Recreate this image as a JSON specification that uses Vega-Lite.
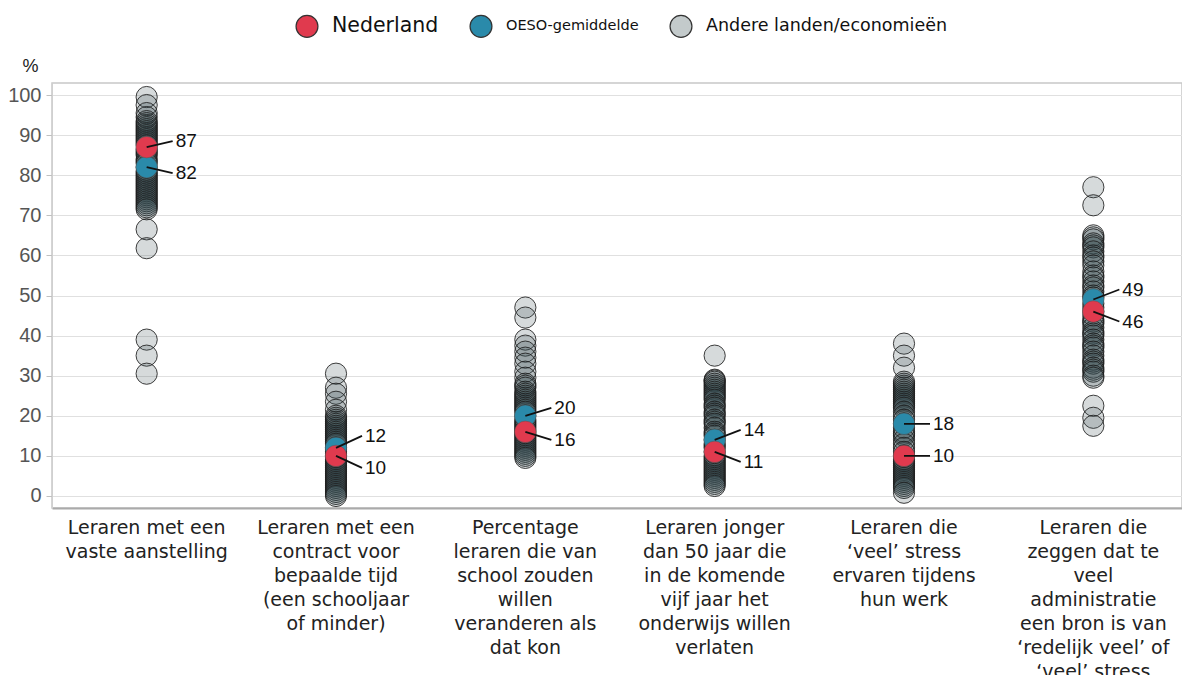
{
  "$schema": "https://vega.github.io/schema/vega-lite/v6.json",
  "autosize": "none",
  "width": 1130,
  "height": 425,
  "padding": {"left": 52, "top": 83, "right": 0, "bottom": 167},
  "background": "white",
  "config": {
    "view": {"stroke": "#c8c8c8", "strokeWidth": 1.5},
    "axisY": {
      "labelFont": "Liberation Sans", "labelFontSize": 20, "labelColor": "#555555",
      "domainColor": "#d0d0d0", "tickColor": "#c0c0c0", "tickSize": 6, "labelPadding": 5,
      "gridColor": "#e0e0e0", "gridWidth": 1.2
    },
    "axisX": {
      "labelFont": "DejaVu Sans", "labelFontSize": 19, "labelColor": "#222222",
      "labelLineHeight": 24, "labelPadding": 10, "labelBaseline": "top", "labelLimit": 0,
      "labelAngle": 0, "ticks": false, "grid": false, "domainColor": "#aaaaaa", "domainWidth": 2
    }
  },
  "datasets": {
    "highlight": [
      {"cat": "Leraren met een|vaste aanstelling", "group": "OESO-gemiddelde", "value": 82},
      {"cat": "Leraren met een|contract voor|bepaalde tijd|(een schooljaar|of minder)", "group": "OESO-gemiddelde", "value": 12},
      {"cat": "Percentage|leraren die van|school zouden|willen|veranderen als|dat kon", "group": "OESO-gemiddelde", "value": 20},
      {"cat": "Leraren jonger|dan 50 jaar die|in de komende|vijf jaar het|onderwijs willen|verlaten", "group": "OESO-gemiddelde", "value": 14},
      {"cat": "Leraren die|‘veel’ stress|ervaren tijdens|hun werk", "group": "OESO-gemiddelde", "value": 18},
      {"cat": "Leraren die|zeggen dat te|veel|administratie|een bron is van|‘redelijk veel’ of|‘veel’ stress", "group": "OESO-gemiddelde", "value": 49},
      {"cat": "Leraren met een|vaste aanstelling", "group": "Nederland", "value": 87},
      {"cat": "Leraren met een|contract voor|bepaalde tijd|(een schooljaar|of minder)", "group": "Nederland", "value": 10},
      {"cat": "Percentage|leraren die van|school zouden|willen|veranderen als|dat kon", "group": "Nederland", "value": 16},
      {"cat": "Leraren jonger|dan 50 jaar die|in de komende|vijf jaar het|onderwijs willen|verlaten", "group": "Nederland", "value": 11},
      {"cat": "Leraren die|‘veel’ stress|ervaren tijdens|hun werk", "group": "Nederland", "value": 10},
      {"cat": "Leraren die|zeggen dat te|veel|administratie|een bron is van|‘redelijk veel’ of|‘veel’ stress", "group": "Nederland", "value": 46}
    ],
    "seps": [
      {"cat": "Leraren met een|contract voor|bepaalde tijd|(een schooljaar|of minder)"},
      {"cat": "Percentage|leraren die van|school zouden|willen|veranderen als|dat kon"},
      {"cat": "Leraren jonger|dan 50 jaar die|in de komende|vijf jaar het|onderwijs willen|verlaten"},
      {"cat": "Leraren die|‘veel’ stress|ervaren tijdens|hun werk"},
      {"cat": "Leraren die|zeggen dat te|veel|administratie|een bron is van|‘redelijk veel’ of|‘veel’ stress"}
    ],
    "others": [
      {"cat": "Leraren met een|vaste aanstelling", "value": 99.5},
      {"cat": "Leraren met een|vaste aanstelling", "value": 97.5},
      {"cat": "Leraren met een|vaste aanstelling", "value": 95.5},
      {"cat": "Leraren met een|vaste aanstelling", "value": 94.5},
      {"cat": "Leraren met een|vaste aanstelling", "value": 93.5},
      {"cat": "Leraren met een|vaste aanstelling", "value": 93},
      {"cat": "Leraren met een|vaste aanstelling", "value": 92.5},
      {"cat": "Leraren met een|vaste aanstelling", "value": 92},
      {"cat": "Leraren met een|vaste aanstelling", "value": 91.5},
      {"cat": "Leraren met een|vaste aanstelling", "value": 91},
      {"cat": "Leraren met een|vaste aanstelling", "value": 90.5},
      {"cat": "Leraren met een|vaste aanstelling", "value": 90},
      {"cat": "Leraren met een|vaste aanstelling", "value": 89.5},
      {"cat": "Leraren met een|vaste aanstelling", "value": 89},
      {"cat": "Leraren met een|vaste aanstelling", "value": 88.5},
      {"cat": "Leraren met een|vaste aanstelling", "value": 88},
      {"cat": "Leraren met een|vaste aanstelling", "value": 87.5},
      {"cat": "Leraren met een|vaste aanstelling", "value": 86.5},
      {"cat": "Leraren met een|vaste aanstelling", "value": 86},
      {"cat": "Leraren met een|vaste aanstelling", "value": 85.5},
      {"cat": "Leraren met een|vaste aanstelling", "value": 85},
      {"cat": "Leraren met een|vaste aanstelling", "value": 84},
      {"cat": "Leraren met een|vaste aanstelling", "value": 83.5},
      {"cat": "Leraren met een|vaste aanstelling", "value": 83},
      {"cat": "Leraren met een|vaste aanstelling", "value": 82},
      {"cat": "Leraren met een|vaste aanstelling", "value": 81},
      {"cat": "Leraren met een|vaste aanstelling", "value": 80.5},
      {"cat": "Leraren met een|vaste aanstelling", "value": 80},
      {"cat": "Leraren met een|vaste aanstelling", "value": 79.5},
      {"cat": "Leraren met een|vaste aanstelling", "value": 79},
      {"cat": "Leraren met een|vaste aanstelling", "value": 78.5},
      {"cat": "Leraren met een|vaste aanstelling", "value": 78},
      {"cat": "Leraren met een|vaste aanstelling", "value": 77.5},
      {"cat": "Leraren met een|vaste aanstelling", "value": 77},
      {"cat": "Leraren met een|vaste aanstelling", "value": 76.5},
      {"cat": "Leraren met een|vaste aanstelling", "value": 76},
      {"cat": "Leraren met een|vaste aanstelling", "value": 75.5},
      {"cat": "Leraren met een|vaste aanstelling", "value": 75},
      {"cat": "Leraren met een|vaste aanstelling", "value": 74.5},
      {"cat": "Leraren met een|vaste aanstelling", "value": 74},
      {"cat": "Leraren met een|vaste aanstelling", "value": 73.5},
      {"cat": "Leraren met een|vaste aanstelling", "value": 73},
      {"cat": "Leraren met een|vaste aanstelling", "value": 72.5},
      {"cat": "Leraren met een|vaste aanstelling", "value": 72},
      {"cat": "Leraren met een|vaste aanstelling", "value": 71.5},
      {"cat": "Leraren met een|vaste aanstelling", "value": 66.5},
      {"cat": "Leraren met een|vaste aanstelling", "value": 61.8},
      {"cat": "Leraren met een|vaste aanstelling", "value": 39},
      {"cat": "Leraren met een|vaste aanstelling", "value": 35},
      {"cat": "Leraren met een|vaste aanstelling", "value": 30.5},

      {"cat": "Leraren met een|contract voor|bepaalde tijd|(een schooljaar|of minder)", "value": 30.5},
      {"cat": "Leraren met een|contract voor|bepaalde tijd|(een schooljaar|of minder)", "value": 27},
      {"cat": "Leraren met een|contract voor|bepaalde tijd|(een schooljaar|of minder)", "value": 25.5},
      {"cat": "Leraren met een|contract voor|bepaalde tijd|(een schooljaar|of minder)", "value": 23.5},
      {"cat": "Leraren met een|contract voor|bepaalde tijd|(een schooljaar|of minder)", "value": 21.5},
      {"cat": "Leraren met een|contract voor|bepaalde tijd|(een schooljaar|of minder)", "value": 20},
      {"cat": "Leraren met een|contract voor|bepaalde tijd|(een schooljaar|of minder)", "value": 19.5},
      {"cat": "Leraren met een|contract voor|bepaalde tijd|(een schooljaar|of minder)", "value": 19},
      {"cat": "Leraren met een|contract voor|bepaalde tijd|(een schooljaar|of minder)", "value": 18.5},
      {"cat": "Leraren met een|contract voor|bepaalde tijd|(een schooljaar|of minder)", "value": 18},
      {"cat": "Leraren met een|contract voor|bepaalde tijd|(een schooljaar|of minder)", "value": 17.5},
      {"cat": "Leraren met een|contract voor|bepaalde tijd|(een schooljaar|of minder)", "value": 17},
      {"cat": "Leraren met een|contract voor|bepaalde tijd|(een schooljaar|of minder)", "value": 16.5},
      {"cat": "Leraren met een|contract voor|bepaalde tijd|(een schooljaar|of minder)", "value": 16},
      {"cat": "Leraren met een|contract voor|bepaalde tijd|(een schooljaar|of minder)", "value": 15.5},
      {"cat": "Leraren met een|contract voor|bepaalde tijd|(een schooljaar|of minder)", "value": 15},
      {"cat": "Leraren met een|contract voor|bepaalde tijd|(een schooljaar|of minder)", "value": 14.5},
      {"cat": "Leraren met een|contract voor|bepaalde tijd|(een schooljaar|of minder)", "value": 14},
      {"cat": "Leraren met een|contract voor|bepaalde tijd|(een schooljaar|of minder)", "value": 13.5},
      {"cat": "Leraren met een|contract voor|bepaalde tijd|(een schooljaar|of minder)", "value": 13},
      {"cat": "Leraren met een|contract voor|bepaalde tijd|(een schooljaar|of minder)", "value": 12},
      {"cat": "Leraren met een|contract voor|bepaalde tijd|(een schooljaar|of minder)", "value": 11.5},
      {"cat": "Leraren met een|contract voor|bepaalde tijd|(een schooljaar|of minder)", "value": 11},
      {"cat": "Leraren met een|contract voor|bepaalde tijd|(een schooljaar|of minder)", "value": 10.5},
      {"cat": "Leraren met een|contract voor|bepaalde tijd|(een schooljaar|of minder)", "value": 10},
      {"cat": "Leraren met een|contract voor|bepaalde tijd|(een schooljaar|of minder)", "value": 9.5},
      {"cat": "Leraren met een|contract voor|bepaalde tijd|(een schooljaar|of minder)", "value": 9},
      {"cat": "Leraren met een|contract voor|bepaalde tijd|(een schooljaar|of minder)", "value": 8.5},
      {"cat": "Leraren met een|contract voor|bepaalde tijd|(een schooljaar|of minder)", "value": 8},
      {"cat": "Leraren met een|contract voor|bepaalde tijd|(een schooljaar|of minder)", "value": 7.5},
      {"cat": "Leraren met een|contract voor|bepaalde tijd|(een schooljaar|of minder)", "value": 7},
      {"cat": "Leraren met een|contract voor|bepaalde tijd|(een schooljaar|of minder)", "value": 6.5},
      {"cat": "Leraren met een|contract voor|bepaalde tijd|(een schooljaar|of minder)", "value": 6},
      {"cat": "Leraren met een|contract voor|bepaalde tijd|(een schooljaar|of minder)", "value": 5.5},
      {"cat": "Leraren met een|contract voor|bepaalde tijd|(een schooljaar|of minder)", "value": 5},
      {"cat": "Leraren met een|contract voor|bepaalde tijd|(een schooljaar|of minder)", "value": 4.5},
      {"cat": "Leraren met een|contract voor|bepaalde tijd|(een schooljaar|of minder)", "value": 4},
      {"cat": "Leraren met een|contract voor|bepaalde tijd|(een schooljaar|of minder)", "value": 3.5},
      {"cat": "Leraren met een|contract voor|bepaalde tijd|(een schooljaar|of minder)", "value": 3},
      {"cat": "Leraren met een|contract voor|bepaalde tijd|(een schooljaar|of minder)", "value": 2.5},
      {"cat": "Leraren met een|contract voor|bepaalde tijd|(een schooljaar|of minder)", "value": 2},
      {"cat": "Leraren met een|contract voor|bepaalde tijd|(een schooljaar|of minder)", "value": 1.5},
      {"cat": "Leraren met een|contract voor|bepaalde tijd|(een schooljaar|of minder)", "value": 1},
      {"cat": "Leraren met een|contract voor|bepaalde tijd|(een schooljaar|of minder)", "value": 0.5},
      {"cat": "Leraren met een|contract voor|bepaalde tijd|(een schooljaar|of minder)", "value": 0},

      {"cat": "Percentage|leraren die van|school zouden|willen|veranderen als|dat kon", "value": 47},
      {"cat": "Percentage|leraren die van|school zouden|willen|veranderen als|dat kon", "value": 44.5},
      {"cat": "Percentage|leraren die van|school zouden|willen|veranderen als|dat kon", "value": 39},
      {"cat": "Percentage|leraren die van|school zouden|willen|veranderen als|dat kon", "value": 37.5},
      {"cat": "Percentage|leraren die van|school zouden|willen|veranderen als|dat kon", "value": 36},
      {"cat": "Percentage|leraren die van|school zouden|willen|veranderen als|dat kon", "value": 34.5},
      {"cat": "Percentage|leraren die van|school zouden|willen|veranderen als|dat kon", "value": 33},
      {"cat": "Percentage|leraren die van|school zouden|willen|veranderen als|dat kon", "value": 31},
      {"cat": "Percentage|leraren die van|school zouden|willen|veranderen als|dat kon", "value": 29.5},
      {"cat": "Percentage|leraren die van|school zouden|willen|veranderen als|dat kon", "value": 28},
      {"cat": "Percentage|leraren die van|school zouden|willen|veranderen als|dat kon", "value": 27.5},
      {"cat": "Percentage|leraren die van|school zouden|willen|veranderen als|dat kon", "value": 27},
      {"cat": "Percentage|leraren die van|school zouden|willen|veranderen als|dat kon", "value": 26},
      {"cat": "Percentage|leraren die van|school zouden|willen|veranderen als|dat kon", "value": 25.5},
      {"cat": "Percentage|leraren die van|school zouden|willen|veranderen als|dat kon", "value": 25},
      {"cat": "Percentage|leraren die van|school zouden|willen|veranderen als|dat kon", "value": 24.5},
      {"cat": "Percentage|leraren die van|school zouden|willen|veranderen als|dat kon", "value": 24},
      {"cat": "Percentage|leraren die van|school zouden|willen|veranderen als|dat kon", "value": 23.5},
      {"cat": "Percentage|leraren die van|school zouden|willen|veranderen als|dat kon", "value": 23},
      {"cat": "Percentage|leraren die van|school zouden|willen|veranderen als|dat kon", "value": 22.5},
      {"cat": "Percentage|leraren die van|school zouden|willen|veranderen als|dat kon", "value": 22},
      {"cat": "Percentage|leraren die van|school zouden|willen|veranderen als|dat kon", "value": 21.5},
      {"cat": "Percentage|leraren die van|school zouden|willen|veranderen als|dat kon", "value": 21},
      {"cat": "Percentage|leraren die van|school zouden|willen|veranderen als|dat kon", "value": 20},
      {"cat": "Percentage|leraren die van|school zouden|willen|veranderen als|dat kon", "value": 19},
      {"cat": "Percentage|leraren die van|school zouden|willen|veranderen als|dat kon", "value": 18.5},
      {"cat": "Percentage|leraren die van|school zouden|willen|veranderen als|dat kon", "value": 18},
      {"cat": "Percentage|leraren die van|school zouden|willen|veranderen als|dat kon", "value": 17.5},
      {"cat": "Percentage|leraren die van|school zouden|willen|veranderen als|dat kon", "value": 17},
      {"cat": "Percentage|leraren die van|school zouden|willen|veranderen als|dat kon", "value": 16.5},
      {"cat": "Percentage|leraren die van|school zouden|willen|veranderen als|dat kon", "value": 16},
      {"cat": "Percentage|leraren die van|school zouden|willen|veranderen als|dat kon", "value": 15.5},
      {"cat": "Percentage|leraren die van|school zouden|willen|veranderen als|dat kon", "value": 15},
      {"cat": "Percentage|leraren die van|school zouden|willen|veranderen als|dat kon", "value": 14.5},
      {"cat": "Percentage|leraren die van|school zouden|willen|veranderen als|dat kon", "value": 14},
      {"cat": "Percentage|leraren die van|school zouden|willen|veranderen als|dat kon", "value": 13.5},
      {"cat": "Percentage|leraren die van|school zouden|willen|veranderen als|dat kon", "value": 13},
      {"cat": "Percentage|leraren die van|school zouden|willen|veranderen als|dat kon", "value": 12.5},
      {"cat": "Percentage|leraren die van|school zouden|willen|veranderen als|dat kon", "value": 12},
      {"cat": "Percentage|leraren die van|school zouden|willen|veranderen als|dat kon", "value": 11.5},
      {"cat": "Percentage|leraren die van|school zouden|willen|veranderen als|dat kon", "value": 11},
      {"cat": "Percentage|leraren die van|school zouden|willen|veranderen als|dat kon", "value": 10.5},
      {"cat": "Percentage|leraren die van|school zouden|willen|veranderen als|dat kon", "value": 10},
      {"cat": "Percentage|leraren die van|school zouden|willen|veranderen als|dat kon", "value": 9.5},

      {"cat": "Leraren jonger|dan 50 jaar die|in de komende|vijf jaar het|onderwijs willen|verlaten", "value": 35},
      {"cat": "Leraren jonger|dan 50 jaar die|in de komende|vijf jaar het|onderwijs willen|verlaten", "value": 29},
      {"cat": "Leraren jonger|dan 50 jaar die|in de komende|vijf jaar het|onderwijs willen|verlaten", "value": 28.8},
      {"cat": "Leraren jonger|dan 50 jaar die|in de komende|vijf jaar het|onderwijs willen|verlaten", "value": 28.5},
      {"cat": "Leraren jonger|dan 50 jaar die|in de komende|vijf jaar het|onderwijs willen|verlaten", "value": 28},
      {"cat": "Leraren jonger|dan 50 jaar die|in de komende|vijf jaar het|onderwijs willen|verlaten", "value": 27.5},
      {"cat": "Leraren jonger|dan 50 jaar die|in de komende|vijf jaar het|onderwijs willen|verlaten", "value": 27},
      {"cat": "Leraren jonger|dan 50 jaar die|in de komende|vijf jaar het|onderwijs willen|verlaten", "value": 26.5},
      {"cat": "Leraren jonger|dan 50 jaar die|in de komende|vijf jaar het|onderwijs willen|verlaten", "value": 26},
      {"cat": "Leraren jonger|dan 50 jaar die|in de komende|vijf jaar het|onderwijs willen|verlaten", "value": 25.5},
      {"cat": "Leraren jonger|dan 50 jaar die|in de komende|vijf jaar het|onderwijs willen|verlaten", "value": 25},
      {"cat": "Leraren jonger|dan 50 jaar die|in de komende|vijf jaar het|onderwijs willen|verlaten", "value": 24.5},
      {"cat": "Leraren jonger|dan 50 jaar die|in de komende|vijf jaar het|onderwijs willen|verlaten", "value": 24},
      {"cat": "Leraren jonger|dan 50 jaar die|in de komende|vijf jaar het|onderwijs willen|verlaten", "value": 23},
      {"cat": "Leraren jonger|dan 50 jaar die|in de komende|vijf jaar het|onderwijs willen|verlaten", "value": 22.5},
      {"cat": "Leraren jonger|dan 50 jaar die|in de komende|vijf jaar het|onderwijs willen|verlaten", "value": 22},
      {"cat": "Leraren jonger|dan 50 jaar die|in de komende|vijf jaar het|onderwijs willen|verlaten", "value": 21},
      {"cat": "Leraren jonger|dan 50 jaar die|in de komende|vijf jaar het|onderwijs willen|verlaten", "value": 20.5},
      {"cat": "Leraren jonger|dan 50 jaar die|in de komende|vijf jaar het|onderwijs willen|verlaten", "value": 20},
      {"cat": "Leraren jonger|dan 50 jaar die|in de komende|vijf jaar het|onderwijs willen|verlaten", "value": 19},
      {"cat": "Leraren jonger|dan 50 jaar die|in de komende|vijf jaar het|onderwijs willen|verlaten", "value": 18.5},
      {"cat": "Leraren jonger|dan 50 jaar die|in de komende|vijf jaar het|onderwijs willen|verlaten", "value": 18},
      {"cat": "Leraren jonger|dan 50 jaar die|in de komende|vijf jaar het|onderwijs willen|verlaten", "value": 17},
      {"cat": "Leraren jonger|dan 50 jaar die|in de komende|vijf jaar het|onderwijs willen|verlaten", "value": 16},
      {"cat": "Leraren jonger|dan 50 jaar die|in de komende|vijf jaar het|onderwijs willen|verlaten", "value": 15.5},
      {"cat": "Leraren jonger|dan 50 jaar die|in de komende|vijf jaar het|onderwijs willen|verlaten", "value": 15},
      {"cat": "Leraren jonger|dan 50 jaar die|in de komende|vijf jaar het|onderwijs willen|verlaten", "value": 14},
      {"cat": "Leraren jonger|dan 50 jaar die|in de komende|vijf jaar het|onderwijs willen|verlaten", "value": 13},
      {"cat": "Leraren jonger|dan 50 jaar die|in de komende|vijf jaar het|onderwijs willen|verlaten", "value": 12.5},
      {"cat": "Leraren jonger|dan 50 jaar die|in de komende|vijf jaar het|onderwijs willen|verlaten", "value": 12},
      {"cat": "Leraren jonger|dan 50 jaar die|in de komende|vijf jaar het|onderwijs willen|verlaten", "value": 11},
      {"cat": "Leraren jonger|dan 50 jaar die|in de komende|vijf jaar het|onderwijs willen|verlaten", "value": 10},
      {"cat": "Leraren jonger|dan 50 jaar die|in de komende|vijf jaar het|onderwijs willen|verlaten", "value": 9.5},
      {"cat": "Leraren jonger|dan 50 jaar die|in de komende|vijf jaar het|onderwijs willen|verlaten", "value": 9},
      {"cat": "Leraren jonger|dan 50 jaar die|in de komende|vijf jaar het|onderwijs willen|verlaten", "value": 8.5},
      {"cat": "Leraren jonger|dan 50 jaar die|in de komende|vijf jaar het|onderwijs willen|verlaten", "value": 8},
      {"cat": "Leraren jonger|dan 50 jaar die|in de komende|vijf jaar het|onderwijs willen|verlaten", "value": 7.5},
      {"cat": "Leraren jonger|dan 50 jaar die|in de komende|vijf jaar het|onderwijs willen|verlaten", "value": 7},
      {"cat": "Leraren jonger|dan 50 jaar die|in de komende|vijf jaar het|onderwijs willen|verlaten", "value": 6.5},
      {"cat": "Leraren jonger|dan 50 jaar die|in de komende|vijf jaar het|onderwijs willen|verlaten", "value": 6},
      {"cat": "Leraren jonger|dan 50 jaar die|in de komende|vijf jaar het|onderwijs willen|verlaten", "value": 5.5},
      {"cat": "Leraren jonger|dan 50 jaar die|in de komende|vijf jaar het|onderwijs willen|verlaten", "value": 5},
      {"cat": "Leraren jonger|dan 50 jaar die|in de komende|vijf jaar het|onderwijs willen|verlaten", "value": 4.5},
      {"cat": "Leraren jonger|dan 50 jaar die|in de komende|vijf jaar het|onderwijs willen|verlaten", "value": 4},
      {"cat": "Leraren jonger|dan 50 jaar die|in de komende|vijf jaar het|onderwijs willen|verlaten", "value": 3.5},
      {"cat": "Leraren jonger|dan 50 jaar die|in de komende|vijf jaar het|onderwijs willen|verlaten", "value": 3},
      {"cat": "Leraren jonger|dan 50 jaar die|in de komende|vijf jaar het|onderwijs willen|verlaten", "value": 2.5},

      {"cat": "Leraren die|‘veel’ stress|ervaren tijdens|hun werk", "value": 38},
      {"cat": "Leraren die|‘veel’ stress|ervaren tijdens|hun werk", "value": 35},
      {"cat": "Leraren die|‘veel’ stress|ervaren tijdens|hun werk", "value": 32},
      {"cat": "Leraren die|‘veel’ stress|ervaren tijdens|hun werk", "value": 28.5},
      {"cat": "Leraren die|‘veel’ stress|ervaren tijdens|hun werk", "value": 28},
      {"cat": "Leraren die|‘veel’ stress|ervaren tijdens|hun werk", "value": 27.5},
      {"cat": "Leraren die|‘veel’ stress|ervaren tijdens|hun werk", "value": 27},
      {"cat": "Leraren die|‘veel’ stress|ervaren tijdens|hun werk", "value": 26.5},
      {"cat": "Leraren die|‘veel’ stress|ervaren tijdens|hun werk", "value": 26},
      {"cat": "Leraren die|‘veel’ stress|ervaren tijdens|hun werk", "value": 25.5},
      {"cat": "Leraren die|‘veel’ stress|ervaren tijdens|hun werk", "value": 25},
      {"cat": "Leraren die|‘veel’ stress|ervaren tijdens|hun werk", "value": 24.5},
      {"cat": "Leraren die|‘veel’ stress|ervaren tijdens|hun werk", "value": 24},
      {"cat": "Leraren die|‘veel’ stress|ervaren tijdens|hun werk", "value": 23.5},
      {"cat": "Leraren die|‘veel’ stress|ervaren tijdens|hun werk", "value": 23},
      {"cat": "Leraren die|‘veel’ stress|ervaren tijdens|hun werk", "value": 22.5},
      {"cat": "Leraren die|‘veel’ stress|ervaren tijdens|hun werk", "value": 22},
      {"cat": "Leraren die|‘veel’ stress|ervaren tijdens|hun werk", "value": 21},
      {"cat": "Leraren die|‘veel’ stress|ervaren tijdens|hun werk", "value": 20},
      {"cat": "Leraren die|‘veel’ stress|ervaren tijdens|hun werk", "value": 19},
      {"cat": "Leraren die|‘veel’ stress|ervaren tijdens|hun werk", "value": 18},
      {"cat": "Leraren die|‘veel’ stress|ervaren tijdens|hun werk", "value": 17},
      {"cat": "Leraren die|‘veel’ stress|ervaren tijdens|hun werk", "value": 16},
      {"cat": "Leraren die|‘veel’ stress|ervaren tijdens|hun werk", "value": 15.5},
      {"cat": "Leraren die|‘veel’ stress|ervaren tijdens|hun werk", "value": 15},
      {"cat": "Leraren die|‘veel’ stress|ervaren tijdens|hun werk", "value": 14},
      {"cat": "Leraren die|‘veel’ stress|ervaren tijdens|hun werk", "value": 13},
      {"cat": "Leraren die|‘veel’ stress|ervaren tijdens|hun werk", "value": 12},
      {"cat": "Leraren die|‘veel’ stress|ervaren tijdens|hun werk", "value": 11},
      {"cat": "Leraren die|‘veel’ stress|ervaren tijdens|hun werk", "value": 10},
      {"cat": "Leraren die|‘veel’ stress|ervaren tijdens|hun werk", "value": 9},
      {"cat": "Leraren die|‘veel’ stress|ervaren tijdens|hun werk", "value": 8.5},
      {"cat": "Leraren die|‘veel’ stress|ervaren tijdens|hun werk", "value": 8},
      {"cat": "Leraren die|‘veel’ stress|ervaren tijdens|hun werk", "value": 7.5},
      {"cat": "Leraren die|‘veel’ stress|ervaren tijdens|hun werk", "value": 7},
      {"cat": "Leraren die|‘veel’ stress|ervaren tijdens|hun werk", "value": 6.5},
      {"cat": "Leraren die|‘veel’ stress|ervaren tijdens|hun werk", "value": 6},
      {"cat": "Leraren die|‘veel’ stress|ervaren tijdens|hun werk", "value": 5.5},
      {"cat": "Leraren die|‘veel’ stress|ervaren tijdens|hun werk", "value": 5},
      {"cat": "Leraren die|‘veel’ stress|ervaren tijdens|hun werk", "value": 4.5},
      {"cat": "Leraren die|‘veel’ stress|ervaren tijdens|hun werk", "value": 4},
      {"cat": "Leraren die|‘veel’ stress|ervaren tijdens|hun werk", "value": 3.5},
      {"cat": "Leraren die|‘veel’ stress|ervaren tijdens|hun werk", "value": 3},
      {"cat": "Leraren die|‘veel’ stress|ervaren tijdens|hun werk", "value": 2.5},
      {"cat": "Leraren die|‘veel’ stress|ervaren tijdens|hun werk", "value": 2},
      {"cat": "Leraren die|‘veel’ stress|ervaren tijdens|hun werk", "value": 0.8},

      {"cat": "Leraren die|zeggen dat te|veel|administratie|een bron is van|‘redelijk veel’ of|‘veel’ stress", "value": 77},
      {"cat": "Leraren die|zeggen dat te|veel|administratie|een bron is van|‘redelijk veel’ of|‘veel’ stress", "value": 72.5},
      {"cat": "Leraren die|zeggen dat te|veel|administratie|een bron is van|‘redelijk veel’ of|‘veel’ stress", "value": 65},
      {"cat": "Leraren die|zeggen dat te|veel|administratie|een bron is van|‘redelijk veel’ of|‘veel’ stress", "value": 64.5},
      {"cat": "Leraren die|zeggen dat te|veel|administratie|een bron is van|‘redelijk veel’ of|‘veel’ stress", "value": 64},
      {"cat": "Leraren die|zeggen dat te|veel|administratie|een bron is van|‘redelijk veel’ of|‘veel’ stress", "value": 63},
      {"cat": "Leraren die|zeggen dat te|veel|administratie|een bron is van|‘redelijk veel’ of|‘veel’ stress", "value": 62.5},
      {"cat": "Leraren die|zeggen dat te|veel|administratie|een bron is van|‘redelijk veel’ of|‘veel’ stress", "value": 62},
      {"cat": "Leraren die|zeggen dat te|veel|administratie|een bron is van|‘redelijk veel’ of|‘veel’ stress", "value": 61},
      {"cat": "Leraren die|zeggen dat te|veel|administratie|een bron is van|‘redelijk veel’ of|‘veel’ stress", "value": 60},
      {"cat": "Leraren die|zeggen dat te|veel|administratie|een bron is van|‘redelijk veel’ of|‘veel’ stress", "value": 59.5},
      {"cat": "Leraren die|zeggen dat te|veel|administratie|een bron is van|‘redelijk veel’ of|‘veel’ stress", "value": 58.5},
      {"cat": "Leraren die|zeggen dat te|veel|administratie|een bron is van|‘redelijk veel’ of|‘veel’ stress", "value": 57.5},
      {"cat": "Leraren die|zeggen dat te|veel|administratie|een bron is van|‘redelijk veel’ of|‘veel’ stress", "value": 56},
      {"cat": "Leraren die|zeggen dat te|veel|administratie|een bron is van|‘redelijk veel’ of|‘veel’ stress", "value": 55},
      {"cat": "Leraren die|zeggen dat te|veel|administratie|een bron is van|‘redelijk veel’ of|‘veel’ stress", "value": 54.5},
      {"cat": "Leraren die|zeggen dat te|veel|administratie|een bron is van|‘redelijk veel’ of|‘veel’ stress", "value": 53.5},
      {"cat": "Leraren die|zeggen dat te|veel|administratie|een bron is van|‘redelijk veel’ of|‘veel’ stress", "value": 52.5},
      {"cat": "Leraren die|zeggen dat te|veel|administratie|een bron is van|‘redelijk veel’ of|‘veel’ stress", "value": 52},
      {"cat": "Leraren die|zeggen dat te|veel|administratie|een bron is van|‘redelijk veel’ of|‘veel’ stress", "value": 51},
      {"cat": "Leraren die|zeggen dat te|veel|administratie|een bron is van|‘redelijk veel’ of|‘veel’ stress", "value": 50},
      {"cat": "Leraren die|zeggen dat te|veel|administratie|een bron is van|‘redelijk veel’ of|‘veel’ stress", "value": 49.5},
      {"cat": "Leraren die|zeggen dat te|veel|administratie|een bron is van|‘redelijk veel’ of|‘veel’ stress", "value": 48},
      {"cat": "Leraren die|zeggen dat te|veel|administratie|een bron is van|‘redelijk veel’ of|‘veel’ stress", "value": 47},
      {"cat": "Leraren die|zeggen dat te|veel|administratie|een bron is van|‘redelijk veel’ of|‘veel’ stress", "value": 46},
      {"cat": "Leraren die|zeggen dat te|veel|administratie|een bron is van|‘redelijk veel’ of|‘veel’ stress", "value": 45},
      {"cat": "Leraren die|zeggen dat te|veel|administratie|een bron is van|‘redelijk veel’ of|‘veel’ stress", "value": 44},
      {"cat": "Leraren die|zeggen dat te|veel|administratie|een bron is van|‘redelijk veel’ of|‘veel’ stress", "value": 43.5},
      {"cat": "Leraren die|zeggen dat te|veel|administratie|een bron is van|‘redelijk veel’ of|‘veel’ stress", "value": 43},
      {"cat": "Leraren die|zeggen dat te|veel|administratie|een bron is van|‘redelijk veel’ of|‘veel’ stress", "value": 42},
      {"cat": "Leraren die|zeggen dat te|veel|administratie|een bron is van|‘redelijk veel’ of|‘veel’ stress", "value": 41},
      {"cat": "Leraren die|zeggen dat te|veel|administratie|een bron is van|‘redelijk veel’ of|‘veel’ stress", "value": 40.5},
      {"cat": "Leraren die|zeggen dat te|veel|administratie|een bron is van|‘redelijk veel’ of|‘veel’ stress", "value": 40},
      {"cat": "Leraren die|zeggen dat te|veel|administratie|een bron is van|‘redelijk veel’ of|‘veel’ stress", "value": 39},
      {"cat": "Leraren die|zeggen dat te|veel|administratie|een bron is van|‘redelijk veel’ of|‘veel’ stress", "value": 38},
      {"cat": "Leraren die|zeggen dat te|veel|administratie|een bron is van|‘redelijk veel’ of|‘veel’ stress", "value": 37.5},
      {"cat": "Leraren die|zeggen dat te|veel|administratie|een bron is van|‘redelijk veel’ of|‘veel’ stress", "value": 37},
      {"cat": "Leraren die|zeggen dat te|veel|administratie|een bron is van|‘redelijk veel’ of|‘veel’ stress", "value": 36},
      {"cat": "Leraren die|zeggen dat te|veel|administratie|een bron is van|‘redelijk veel’ of|‘veel’ stress", "value": 35},
      {"cat": "Leraren die|zeggen dat te|veel|administratie|een bron is van|‘redelijk veel’ of|‘veel’ stress", "value": 34},
      {"cat": "Leraren die|zeggen dat te|veel|administratie|een bron is van|‘redelijk veel’ of|‘veel’ stress", "value": 33.5},
      {"cat": "Leraren die|zeggen dat te|veel|administratie|een bron is van|‘redelijk veel’ of|‘veel’ stress", "value": 33},
      {"cat": "Leraren die|zeggen dat te|veel|administratie|een bron is van|‘redelijk veel’ of|‘veel’ stress", "value": 32},
      {"cat": "Leraren die|zeggen dat te|veel|administratie|een bron is van|‘redelijk veel’ of|‘veel’ stress", "value": 31.5},
      {"cat": "Leraren die|zeggen dat te|veel|administratie|een bron is van|‘redelijk veel’ of|‘veel’ stress", "value": 31},
      {"cat": "Leraren die|zeggen dat te|veel|administratie|een bron is van|‘redelijk veel’ of|‘veel’ stress", "value": 30},
      {"cat": "Leraren die|zeggen dat te|veel|administratie|een bron is van|‘redelijk veel’ of|‘veel’ stress", "value": 29.5},
      {"cat": "Leraren die|zeggen dat te|veel|administratie|een bron is van|‘redelijk veel’ of|‘veel’ stress", "value": 22.5},
      {"cat": "Leraren die|zeggen dat te|veel|administratie|een bron is van|‘redelijk veel’ of|‘veel’ stress", "value": 19.5},
      {"cat": "Leraren die|zeggen dat te|veel|administratie|een bron is van|‘redelijk veel’ of|‘veel’ stress", "value": 17.5}
    ]
  },
  "encoding": {
    "x": {
      "field": "cat", "type": "nominal", "title": null,
      "scale": {
        "domain": [
          "Leraren met een|vaste aanstelling",
          "Leraren met een|contract voor|bepaalde tijd|(een schooljaar|of minder)",
          "Percentage|leraren die van|school zouden|willen|veranderen als|dat kon",
          "Leraren jonger|dan 50 jaar die|in de komende|vijf jaar het|onderwijs willen|verlaten",
          "Leraren die|‘veel’ stress|ervaren tijdens|hun werk",
          "Leraren die|zeggen dat te|veel|administratie|een bron is van|‘redelijk veel’ of|‘veel’ stress"
        ],
        "range": [0, 1136], "paddingInner": 0, "paddingOuter": 0
      },
      "axis": {"labelExpr": "split(datum.label, '|')"}
    },
    "y": {
      "field": "value", "type": "quantitative",
      "scale": {"domain": [-3, 103], "nice": false, "zero": false},
      "axis": {"values": [0, 10, 20, 30, 40, 50, 60, 70, 80, 90, 100], "title": "%", "titleAngle": 0, "titleX": -22, "titleY": -17, "titleAlign": "center", "titleBaseline": "middle", "titleFont": "Liberation Sans", "titleFontSize": 18, "titleFontWeight": "normal", "titleColor": "#222222"}
    }
  },
  "layer": [
    {
      "data": {"name": "seps"},
      "mark": {"type": "rule", "color": "#b5b5b5", "strokeWidth": 4, "strokeDash": [4, 15], "strokeCap": "butt"},
      "encoding": {
        "x": {"field": "cat", "type": "nominal", "bandPosition": 0},
        "y": {"datum": 100.5, "type": "quantitative"},
        "y2": {"datum": -3}
      }
    },
    {
      "data": {"name": "others"},
      "mark": {"type": "circle", "size": 450, "fill": "#34474a", "fillOpacity": 0.2, "stroke": "#1e1e1e", "strokeWidth": 1, "strokeOpacity": 0.85}
    },
    {
      "data": {"name": "highlight"},
      "mark": {"type": "circle", "size": 460, "opacity": 1, "stroke": "#555555", "strokeWidth": 0.5},
      "encoding": {
        "color": {
          "field": "group", "type": "nominal",
          "scale": {"domain": ["Nederland", "OESO-gemiddelde", "Andere landen/economieën"], "range": ["#e03a4e", "#2a8aaa", "#c3cacb"]},
          "legend": {
            "title": null, "orient": "none", "direction": "horizontal",
            "legendX": 243, "legendY": -69,
            "symbolType": "circle", "symbolSize": 480, "symbolStrokeWidth": 1.2, "symbolStrokeColor": "#333333",
            "symbolOpacity": 1,
            "labelFont": "DejaVu Sans", "labelColor": "#111111", "labelOffset": 13,
            "labelFontSize": {"expr": "datum.label === 'Nederland' ? 20.5 : datum.label === 'OESO-gemiddelde' ? 14.5 : 17.5"},
            "columnPadding": 28, "labelLimit": 400
          }
        }
      }
    },
    {
      "data": {"name": "highlight"},
      "transform": [
        {"joinaggregate": [{"op": "mean", "field": "value", "as": "mid"}, {"op": "max", "field": "value", "as": "maxv"}], "groupby": ["cat"]}
      ],
      "layer": [
        {
          "transform": [{"filter": "datum.value === datum.maxv"}],
          "mark": {"type": "rule", "color": "#111111", "strokeWidth": 1.8, "x2Offset": 26, "y2Offset": -16},
          "encoding": {
            "x": {"field": "cat", "type": "nominal", "bandPosition": 0.5},
            "x2": {"field": "cat", "bandPosition": 0.5},
            "y2": {"field": "mid"}
          }
        },
        {
          "transform": [{"filter": "datum.value < datum.maxv"}],
          "mark": {"type": "rule", "color": "#111111", "strokeWidth": 1.8, "x2Offset": 26, "y2Offset": 16},
          "encoding": {
            "x": {"field": "cat", "type": "nominal", "bandPosition": 0.5},
            "x2": {"field": "cat", "bandPosition": 0.5},
            "y2": {"field": "mid"}
          }
        },
        {
          "transform": [{"filter": "datum.value === datum.maxv"}],
          "mark": {"type": "text", "align": "left", "baseline": "middle", "dx": 29, "dy": -16, "font": "Liberation Sans", "fontSize": 19, "color": "#111111"},
          "encoding": {
            "y": {"field": "mid", "type": "quantitative"},
            "text": {"field": "value", "type": "quantitative"}
          }
        },
        {
          "transform": [{"filter": "datum.value < datum.maxv"}],
          "mark": {"type": "text", "align": "left", "baseline": "middle", "dx": 29, "dy": 16, "font": "Liberation Sans", "fontSize": 19, "color": "#111111"},
          "encoding": {
            "y": {"field": "mid", "type": "quantitative"},
            "text": {"field": "value", "type": "quantitative"}
          }
        }
      ]
    }
  ]
}
